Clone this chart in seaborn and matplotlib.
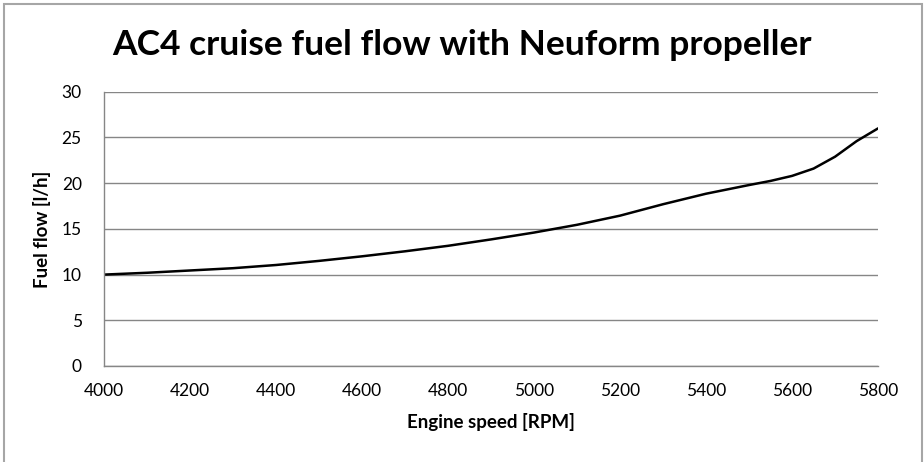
import pandas as pd
import matplotlib.pyplot as plt
import seaborn as sns
from matplotlib.patches import Rectangle

# values
rpm = [4000, 4100, 4200, 4300, 4400, 4500, 4600, 4700, 4800, 4900,
       5000, 5100, 5200, 5300, 5400, 5500, 5550, 5600, 5650, 5700, 5750, 5800]
fuel = [10.0, 10.2, 10.45, 10.7, 11.05, 11.5, 12.0, 12.55, 13.15, 13.85,
        14.6, 15.45, 16.45, 17.7, 18.85, 19.8, 20.25, 20.8, 21.6, 22.9, 24.6, 26.0]
xticks = list(range(4000, 5801, 200))
yticks = [0, 5, 10, 15, 20, 25, 30]

df = pd.DataFrame({'Engine speed [RPM]': rpm, 'Fuel flow [l/h]': fuel})

sns.set_style('white')
plt.rcParams['font.family'] = ['Lato', 'DejaVu Sans']
plt.rcParams['text.color'] = 'black'
plt.rcParams['axes.labelcolor'] = 'black'
plt.rcParams['xtick.color'] = 'black'
plt.rcParams['ytick.color'] = 'black'

fig = plt.figure(figsize=(9.24, 4.62), dpi=100)
ax = fig.add_axes([0.1126, 0.2078, 0.8377, 0.5935])

sns.lineplot(data=df, x='Engine speed [RPM]', y='Fuel flow [l/h]',
             color='black', linewidth=1.8, ax=ax)

grey = '#868686'
ax.set_xlim(4000, 5800)
ax.set_ylim(0, 30)
ax.set_xticks(xticks)
ax.set_yticks(yticks)
ax.yaxis.grid(True, color=grey, linewidth=1)
ax.set_axisbelow(True)
for s in ['top', 'right']:
    ax.spines[s].set_visible(False)
for s in ['left', 'bottom']:
    ax.spines[s].set_color(grey)
    ax.spines[s].set_linewidth(1)
ax.tick_params(axis='both', direction='out', length=7, width=1, color=grey,
               labelcolor='black', labelsize=12.5)
ax.tick_params(axis='x', pad=5)
ax.tick_params(axis='y', pad=9)

ax.set_xlabel('Engine speed [RPM]', fontsize=13.5, fontweight='bold', labelpad=10)
ax.set_ylabel('Fuel flow [l/h]', fontsize=13.5, fontweight='bold', labelpad=8)

fig.text(0.5, 0.903, 'AC4 cruise fuel flow with Neuform propeller',
         ha='center', va='center', fontsize=25.5, fontweight='bold')

fig.patches.append(Rectangle((3.5 / 924, -0.01), (922 - 3.5) / 924, 1 - 4 / 462 + 0.01,
                             transform=fig.transFigure, fill=False,
                             edgecolor='#a6a6a6', linewidth=1.5))

plt.savefig('out.png', dpi=100)
plt.close()
